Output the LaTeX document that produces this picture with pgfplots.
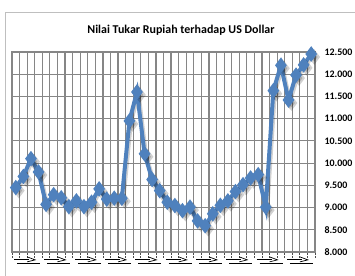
\documentclass[border=0pt]{standalone}
\usepackage{fontspec}
\setmainfont{Carlito}
\usepackage{pgfplots}
\pgfplotsset{compat=1.18}
\definecolor{excelblue}{RGB}{79,129,189}
\definecolor{gridgray}{RGB}{134,134,134}
\newcommand{\glyph}{\tikz[x=1bp,y=1bp,line width=0.7bp,baseline=0pt]{\draw (0,3.5)--(15,3.5); \draw (3,0)--(26,0); \draw (13,6)--(21,3)--(13,1);}}
\begin{document}
\begin{tikzpicture}[x=1bp,y=1bp]
\path[use as bounding box] (0,0) rectangle (355,276);
\draw[black!25, line width=1bp] (5.5,0) -- (5.5,263) -- (355,263);
\node[font=\bfseries\fontsize{12}{14}\selectfont] at (181,246) {Nilai Tukar Rupiah terhadap US Dollar};
\begin{axis}[
  at={(12bp,24bp)}, anchor=south west, scale only axis,
  width=303bp, height=200bp,
  xmin=-0.5, xmax=39.5, ymin=8000, ymax=12500,
  clip=false,
  xtick={-0.5,0.5,...,39.5}, xticklabels={},
  xtick pos=bottom,
  xmajorgrids, ymajorgrids,
  grid style={gridgray, line width=1.2bp},
  axis line style={gridgray, line width=1.2bp},
  tick align=outside,
  x tick style={black!70, densely dotted, line width=0.8bp},
  major tick length=5bp,
  ytick={8000,8500,...,12500},
  y tick style={draw=none},
  ytick pos=right,
  yticklabel pos=right,
  scaled y ticks=false,
  yticklabel style={font=\bfseries\fontsize{10}{12}\selectfont, xshift=1bp,
    /pgf/number format/fixed,
    /pgf/number format/precision=0,
    /pgf/number format/1000 sep={.},
    /pgf/number format/assume math mode=true},
  extra x ticks={1.5,5.5,...,37.5},
  extra x tick style={grid=none, major tick length=0pt,
    xticklabel style={yshift=-1bp}},
  extra x tick labels={\glyph,\glyph,\glyph,\glyph,\glyph,\glyph,\glyph,\glyph,\glyph,\glyph},
]
\addplot[black, opacity=0.18, line width=4bp, forget plot,
  transform canvas={xshift=1.5bp,yshift=-1.5bp},
  mark=diamond*, mark size=4.5bp] coordinates {
(0,9450)(1,9700)(2,10100)(3,9800)(4,9070)(5,9290)(6,9220)(7,9020)(8,9150)(9,9020)
(10,9120)(11,9420)(12,9190)(13,9210)(14,9210)(15,10950)(16,11600)(17,10210)(18,9630)(19,9380)
(20,9120)(21,9045)(22,8930)(23,9010)(24,8700)(25,8590)(26,8860)(27,9050)(28,9150)(29,9360)
(30,9515)(31,9665)(32,9740)(33,9010)(34,11630)(35,12200)(36,11420)(37,11980)(38,12210)(39,12455)
};
\addplot[excelblue, line width=4bp, mark=diamond*, mark size=4.5bp, mark options={solid}] coordinates {
(0,9450)(1,9700)(2,10100)(3,9800)(4,9070)(5,9290)(6,9220)(7,9020)(8,9150)(9,9020)
(10,9120)(11,9420)(12,9190)(13,9210)(14,9210)(15,10950)(16,11600)(17,10210)(18,9630)(19,9380)
(20,9120)(21,9045)(22,8930)(23,9010)(24,8700)(25,8590)(26,8860)(27,9050)(28,9150)(29,9360)
(30,9515)(31,9665)(32,9740)(33,9010)(34,11630)(35,12200)(36,11420)(37,11980)(38,12210)(39,12455)
};
\end{axis}
\end{tikzpicture}
\end{document}
